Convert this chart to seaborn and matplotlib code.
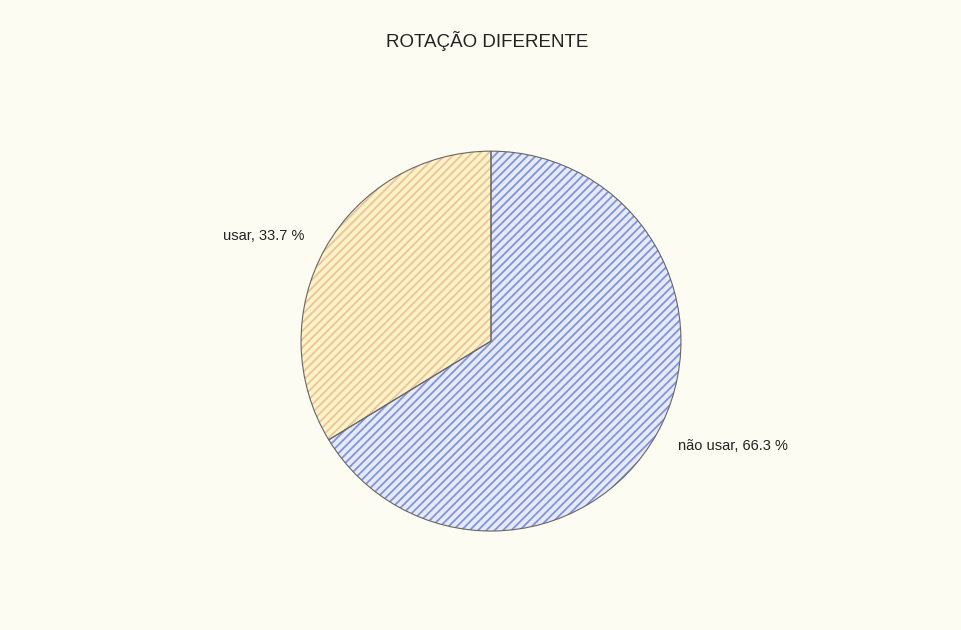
import numpy as np
import pandas as pd
import seaborn as sns
import matplotlib.pyplot as plt

sns.set_style("white")
plt.rcParams['font.family'] = ['Liberation Sans', 'DejaVu Sans']
plt.rcParams['hatch.linewidth'] = 1.3

# data
categories = ['não usar', 'usar']
shares = [66.3, 33.7]
labels = [f"{c}, {v:.1f} %" for c, v in zip(categories, shares)]

face_colors = ['#e6eaf7', '#fcf4c2']
hatch_colors = ['#8093da', '#eec0a4']
bg = '#fdfcf2'

fig = plt.figure(figsize=(9.62, 6.3), dpi=100, facecolor=bg)
ax = fig.add_axes([0.3129, 0.1571, 0.395, 0.603])
ax.set_facecolor(bg)

# hatched fill: the hatch takes the edge colour, so outline goes on top
wedges, texts = ax.pie(
    shares,
    labels=labels,
    startangle=90,
    counterclock=False,
    colors=face_colors,
    labeldistance=1.13,
    wedgeprops=dict(linewidth=0),
    textprops=dict(fontsize=10.5, color='#222222'),
)
for w, hc in zip(wedges, hatch_colors):
    w.set_hatch('////')
    w.set_edgecolor(hc)

# outline
ax.pie(
    shares,
    startangle=90,
    counterclock=False,
    wedgeprops=dict(fill=False, edgecolor='#666666', linewidth=0.8),
)

ax.set_aspect('equal')
ax.set_xlim(-1, 1)
ax.set_ylim(-1, 1)
ax.axis('off')

fig.text(0.506, 0.935, "ROTAÇÃO DIFERENTE", ha='center', va='center',
         fontsize=13.5, color='#222222')

fig.savefig('out.png', dpi=100, facecolor=bg)
